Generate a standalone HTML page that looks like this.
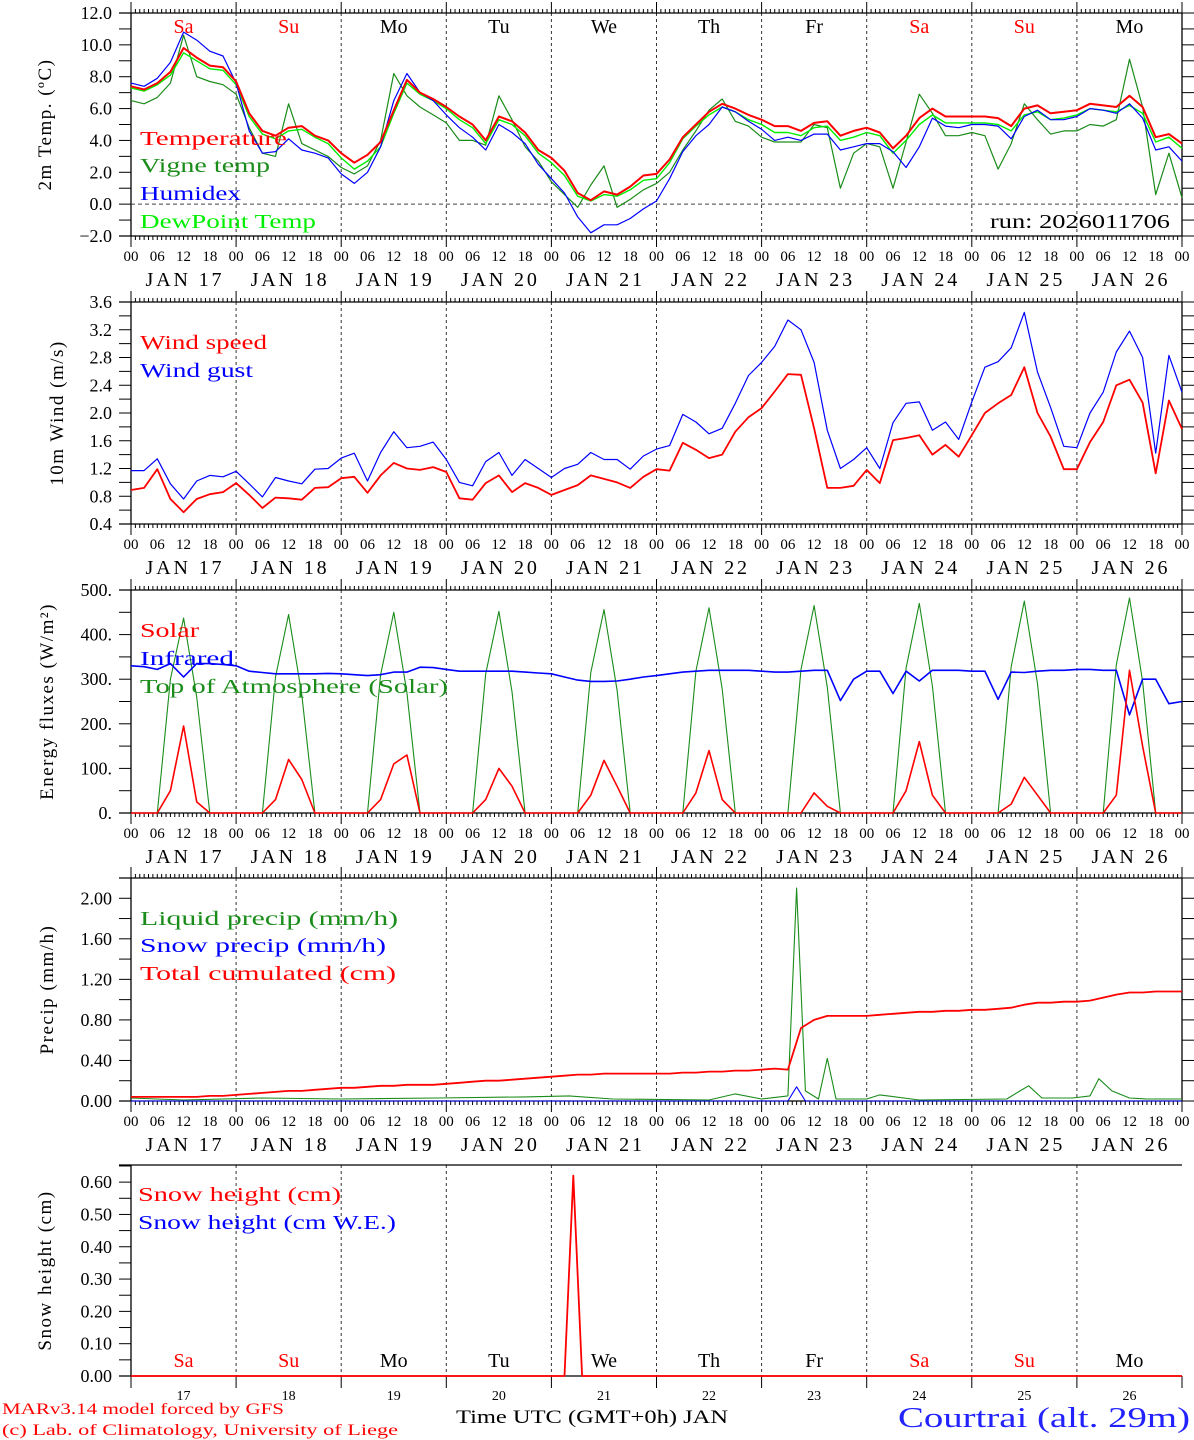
<!DOCTYPE html>
<html><head><meta charset="utf-8"><style>
html,body{margin:0;padding:0;background:#fff;}
svg{display:block;font-family:"Liberation Serif",serif;}
</style></head><body>
<svg id="chart" width="1194" height="1440" viewBox="0 0 1194 1440" xmlns="http://www.w3.org/2000/svg"></svg>
<script>
// ---------- data (3-hourly, Jan 17 00 UTC .. Jan 27 00 UTC) ----------
const dayLabels = ["17","18","19","20","21","22","23","24","25","26"];
const dayNames = ["Sa","Su","Mo","Tu","We","Th","Fr","Sa","Su","Mo"];
const hourLabels = ["00","06","12","18"];
const tempRed = [7.4,7.2,7.6,8.3,9.8,9.2,8.7,8.6, 7.7,5.7,4.6,4.3,4.8,4.9,4.3,4.0, 3.2,2.6,3.1,3.9,5.9,7.8,7.0,6.6, 6.1,5.5,5.0,4.0,5.5,5.2,4.5,3.4, 2.9,2.1,0.7,0.25,0.8,0.6,1.1,1.8, 1.9,2.8,4.2,5.0,5.8,6.3,6.0,5.6, 5.3,4.9,4.9,4.6,5.1,5.2,4.3,4.6, 4.8,4.5,3.5,4.3,5.4,6.0,5.5,5.5, 5.5,5.5,5.4,4.9,6.0,6.2,5.7,5.8, 5.9,6.3,6.2,6.1,6.8,6.1,4.2,4.4,3.8];
const tempVigne = [6.5,6.3,6.7,7.6,10.6,8.0,7.7,7.5, 6.9,4.8,3.2,3.0,6.3,3.8,3.4,3.0, 2.3,1.9,2.4,4.0,8.2,6.8,6.1,5.6, 5.1,4.0,4.0,3.7,6.8,5.3,3.6,2.7, 1.4,0.6,-0.2,1.2,2.4,-0.2,0.3,0.9, 1.3,2.0,3.4,4.6,5.9,6.6,5.2,4.9, 4.2,3.9,3.9,3.9,5.0,4.8,1.0,3.2, 3.8,3.6,1.0,3.9,6.9,5.7,4.3,4.3, 4.5,4.3,2.2,3.8,6.3,5.3,4.4,4.6, 4.6,5.0,4.9,5.3,9.1,6.1,0.6,3.2,0.4];
const tempHumidex = [7.6,7.4,7.9,8.9,10.8,10.3,9.6,9.3, 7.6,4.6,3.2,3.3,4.1,3.4,3.2,2.9, 1.9,1.3,2.0,3.6,6.5,8.2,7.0,6.5, 5.6,4.8,4.2,3.4,5.0,4.5,3.8,2.5, 1.6,0.7,-0.8,-1.8,-1.3,-1.3,-0.9,-0.3, 0.2,1.6,3.3,4.3,5.0,6.1,5.8,5.2, 4.7,4.0,4.2,4.0,4.4,4.4,3.4,3.6, 3.8,3.8,3.3,2.3,3.6,5.4,4.9,4.8, 5.0,5.0,4.9,4.1,5.5,5.9,5.3,5.3, 5.5,6.0,5.9,5.7,6.3,5.4,3.4,3.6,2.7];
const tempDew = [7.3,7.1,7.5,8.1,9.5,9.0,8.5,8.4, 7.5,5.5,4.4,4.1,4.6,4.7,4.2,3.8, 2.9,2.2,2.7,3.6,5.7,7.6,6.9,6.5, 6.0,5.3,4.8,3.8,5.3,5.0,4.3,3.2, 2.6,1.8,0.5,0.2,0.6,0.5,0.9,1.5, 1.6,2.6,4.1,4.9,5.6,6.1,5.8,5.3, 5.0,4.5,4.5,4.3,4.8,4.9,4.0,4.2, 4.5,4.3,3.2,4.0,5.0,5.6,5.1,5.1, 5.1,5.1,5.0,4.6,5.6,5.8,5.3,5.4, 5.6,6.0,5.9,5.8,6.2,5.7,3.9,4.2,3.5];
const windSpeed = [0.89,0.92,1.19,0.76,0.57,0.76,0.83,0.86, 0.99,0.82,0.63,0.78,0.77,0.75,0.92,0.93, 1.06,1.08,0.85,1.1,1.28,1.2,1.18,1.22, 1.15,0.77,0.75,0.99,1.1,0.86,0.99,0.92, 0.82,0.89,0.96,1.1,1.05,1.0,0.92,1.08, 1.19,1.17,1.57,1.47,1.35,1.4,1.73,1.94, 2.07,2.31,2.56,2.55,1.78,0.92,0.92,0.95, 1.18,0.99,1.61,1.64,1.68,1.4,1.54,1.37, 1.68,2.0,2.14,2.26,2.66,2.0,1.66,1.19, 1.19,1.58,1.87,2.4,2.48,2.15,1.13,2.18,1.77];
const windGust = [1.17,1.17,1.34,0.98,0.76,1.02,1.1,1.08, 1.16,0.98,0.79,1.07,1.02,0.98,1.19,1.2, 1.35,1.42,1.02,1.43,1.73,1.5,1.52,1.58, 1.33,1.0,0.95,1.3,1.43,1.1,1.33,1.2, 1.07,1.2,1.26,1.43,1.33,1.33,1.19,1.38, 1.48,1.53,1.98,1.87,1.7,1.78,2.14,2.54, 2.73,2.96,3.34,3.2,2.73,1.75,1.2,1.33, 1.5,1.2,1.86,2.14,2.16,1.75,1.87,1.62, 2.16,2.66,2.74,2.94,3.45,2.59,2.08,1.52, 1.5,2.0,2.3,2.88,3.18,2.8,1.42,2.83,2.3];
const fluxSolar = [0,0,0,50,195,25,0,0, 0,0,0,30,120,75,0,0, 0,0,0,30,110,130,0,0, 0,0,0,30,100,60,0,0, 0,0,0,40,118,60,0,0, 0,0,0,45,140,30,0,0, 0,0,0,0,45,15,0,0, 0,0,0,50,160,40,0,0, 0,0,0,20,80,40,0,0, 0,0,0,40,320,150,0,0,0];
const fluxInfrared = [330,328,322,335,305,335,335,333, 330,318,315,312,312,312,312,313, 312,310,308,310,316,316,327,326, 322,318,318,318,318,318,316,314, 312,305,298,295,295,296,300,305, 308,312,316,318,320,320,320,320, 318,316,316,318,320,320,252,300, 318,318,268,318,296,320,320,320, 318,318,255,316,315,318,320,320, 322,322,320,320,220,300,300,245,250];
const fluxTOA = [0,0,0,300,437,260,0,0, 0,0,0,305,445,265,0,0, 0,0,0,310,450,270,0,0, 0,0,0,312,452,272,0,0, 0,0,0,315,456,275,0,0, 0,0,0,318,460,278,0,0, 0,0,0,322,465,282,0,0, 0,0,0,325,470,285,0,0, 0,0,0,328,475,290,0,0, 0,0,0,332,482,295,0,0,0];
const precipTotal = [0.04,0.04,0.04,0.04,0.04,0.04,0.05,0.05, 0.06,0.07,0.08,0.09,0.10,0.10,0.11,0.12, 0.13,0.13,0.14,0.15,0.15,0.16,0.16,0.16, 0.17,0.18,0.19,0.20,0.20,0.21,0.22,0.23, 0.24,0.25,0.26,0.26,0.27,0.27,0.27,0.27, 0.27,0.27,0.28,0.28,0.29,0.29,0.30,0.30, 0.31,0.32,0.31,0.72,0.80,0.84,0.84,0.84, 0.84,0.85,0.86,0.87,0.88,0.88,0.89,0.89, 0.90,0.90,0.91,0.92,0.95,0.97,0.97,0.98, 0.98,0.99,1.02,1.05,1.07,1.07,1.08,1.08,1.08];
const liquidHours = [0,6,12,30,48,70,90,100,110,132,138,144,150,152,154,157,159,161,168,171,180,200,203,205,208,215,219,221,224,228,232,240];
const liquidVals = [0.03,0.02,0.01,0.03,0.02,0.03,0.04,0.05,0.02,0.01,0.07,0.02,0.05,2.1,0.1,0.02,0.42,0.02,0.02,0.06,0.01,0.02,0.1,0.15,0.03,0.03,0.05,0.22,0.1,0.03,0.02,0.02];
const snowPrecipHours = [0,150,152,154,240];
const snowPrecipVals = [0,0,0.14,0,0];
const snowHours = [0,99,101,103,240];
const snowVals = [0,0,0.62,0,0];

// ---------- drawing ----------
const NS = "http://www.w3.org/2000/svg";
const svg = document.getElementById("chart");
const X0 = 131, X1 = 1182, HOURS = 240;
function xh(h){ return X0 + h*(X1-X0)/HOURS; }
function mk(tag, attrs, parent){
  const e = document.createElementNS(NS, tag);
  for (const k in attrs) e.setAttribute(k, attrs[k]);
  (parent||svg).appendChild(e);
  return e;
}
function txt(s, x, y, size, color, anchor, parent){
  const t = mk("text", {x:x, y:y, "font-size":size, fill:color||"#000", "text-anchor":anchor||"start"}, parent);
  t.textContent = s;
  return t;
}
const panels = [
  {name:"temperature", top:13, bot:236, min:-2, max:12, lab:2, tick:1, dec:1, title:"2m Temp. (ºC)", tx:45},
  {name:"wind", top:302, bot:524, min:0.4, max:3.6, lab:0.4, tick:0.2, dec:1, title:"10m Wind (m/s)", tx:57},
  {name:"energy", top:590, bot:813, min:0, max:500, lab:100, tick:50, dec:-1, title:"Energy fluxes (W/m²)", tx:47},
  {name:"precip", top:878, bot:1101, min:0, max:2.2, lab:0.4, tick:0.2, dec:2, title:"Precip (mm/h)", tx:47, labMax:2.0},
  {name:"snow", top:1165, bot:1376, min:0, max:0.653, lab:0.1, tick:0.05, dec:2, title:"Snow height (cm)", tx:45, labMax:0.6}
];
function yf(p){ return v => p.bot - (v-p.min)*(p.bot-p.top)/(p.max-p.min); }
function fmt(v, dec){
  if (dec < 0) return Math.round(v) + ".";
  const s = Math.abs(v).toFixed(dec);
  return (v < -1e-9 ? "\u2212" : "") + s;
}
function line(x1,y1,x2,y2,stroke,w,dash,parent){
  const a = {x1:x1,y1:y1,x2:x2,y2:y2,stroke:stroke,"stroke-width":w||1};
  if (dash) a["stroke-dasharray"] = dash;
  return mk("line", a, parent);
}
function seriesPath(vals, p, color, w, name, hoursArr){
  const Y = yf(p);
  let d = "";
  vals.forEach((v,i) => {
    const h = hoursArr ? hoursArr[i] : i*3;
    d += (i ? "L" : "M") + xh(h).toFixed(1) + "," + Y(v).toFixed(1);
  });
  const e = mk("path", {d:d, fill:"none", stroke:color, "stroke-width":w, "stroke-linejoin":"round"});
  
  
  return e;
}
function legend(s, y, color, width, name, x){
  const t = mk("text", {x:x||140, y:y, "font-size":20, fill:color, textLength:width, lengthAdjust:"spacingAndGlyphs"});
  t.textContent = s;
  
  
}

panels.forEach((p, pi) => {
  const g = mk("g", {});
  
  
  const Y = yf(p);
  const isSnow = pi === 4;
  for (let d = 1; d < 10; d++) line(xh(d*24), p.top, xh(d*24), p.bot, "#333", 1, "3,3", g);
  line(119, p.top, X1, p.top, "#000", 1.3, null, g);
  line(119, p.bot, X1, p.bot, "#000", 1.3, null, g);
  line(X0, p.top, X0, p.bot, "#000", 1.3, null, g);
  if (!isSnow) line(X1, p.top, X1, p.bot, "#000", 1.3, null, g);
  const nT = Math.round((p.max - p.min)/p.tick);
  for (let i = 0; i <= nT; i++){
    const v = p.min + i*p.tick, y = Y(v);
    if (y < p.top - 0.5) continue;
    line(119, y, X0, y, "#000", 1, null, g);
    if (!isSnow) line(X1, y, 1194, y, "#000", 1, null, g);
  }
  const lm = p.labMax !== undefined ? p.labMax : p.max;
  const nL = Math.round((lm - p.min)/p.lab);
  for (let i = 0; i <= nL; i++){
    const v = p.min + i*p.lab;
    const t = txt(fmt(v, p.dec), 112, Y(v)+6, 18, "#000", "end", g);
    
    
  }
  const cy = (p.top + p.bot)/2;
  const tt = mk("text", {x:0, y:0, "font-size":19, fill:"#000", "text-anchor":"middle", transform:"translate("+(p.tx+6)+","+cy+") rotate(-90)", "letter-spacing":"1.5"}, g);
  tt.textContent = p.title;
  
  
  if (!isSnow){
    for (let h = 0; h <= HOURS; h++){
      const x = xh(h), big = h % 24 === 0;
      line(x, p.top - (big?11:4), x, p.top, "#000", 1, null, g);
      line(x, p.bot, x, p.bot + (big?11:4), "#000", 1, null, g);
    }
    for (let h = 0; h <= HOURS; h += 6){
      const t = txt(hourLabels[(h/6)%4], xh(h), p.bot + 25, 15, "#000", "middle", g);
      
      
    }
    dayLabels.forEach((dl, d) => {
      const t = mk("text", {x:xh(d*24+12)-38, y:p.bot + 50, "font-size":20, fill:"#000", textLength:76, lengthAdjust:"spacing"}, g);
      t.textContent = "JAN " + dl;
      
      
    });
  } else {
    for (let d = 0; d <= 10; d++) line(xh(d*24), p.bot, xh(d*24), p.bot + 12, "#000", 1, null, g);
    dayLabels.forEach((dl, d) => {
      const t = txt(dl, xh(d*24+12), p.bot + 24, 14, "#000", "middle", g);
      
      
    });
  }
});

dayNames.forEach((n, d) => {
  const c = (n === "Sa" || n === "Su") ? "#ff0000" : "#000";
  const t1 = txt(n, xh(d*24+12), 33, 20, c, "middle");
  
  
  const t2 = txt(n, xh(d*24+12), 1367, 20, c, "middle");
  
  
});

const P = panels;
line(X0, yf(P[0])(0), X1, yf(P[0])(0), "#444", 1, "4,3");
seriesPath(tempVigne, P[0], "#1a8c1a", 1.2, "vigne-temp-line");
seriesPath(tempDew, P[0], "#00ee00", 1.4, "dewpoint-line");
seriesPath(tempHumidex, P[0], "#0000ff", 1.2, "humidex-line");
seriesPath(tempRed, P[0], "#ff0000", 2, "temperature-line");
legend("Temperature", 145, "#ff0000", 147, "legend-temperature");
legend("Vigne temp", 172, "#1a8c1a", 130, "legend-vigne-temp");
legend("Humidex", 200, "#0000ff", 101, "legend-humidex");
legend("DewPoint Temp", 228, "#00ee00", 176, "legend-dewpoint");
legend("run: 2026011706", 228, "#000", 180, "run-label", 990);

seriesPath(windGust, P[1], "#0000ff", 1.2, "wind-gust-line");
seriesPath(windSpeed, P[1], "#ff0000", 1.8, "wind-speed-line");
legend("Wind speed", 349, "#ff0000", 127, "legend-wind-speed");
legend("Wind gust", 377, "#0000ff", 113, "legend-wind-gust");

seriesPath(fluxTOA, P[2], "#1a8c1a", 1.1, "toa-solar-line");
seriesPath(fluxInfrared, P[2], "#0000ff", 1.6, "infrared-line");
seriesPath(fluxSolar, P[2], "#ff0000", 1.6, "solar-line");
legend("Solar", 637, "#ff0000", 59, "legend-solar");
legend("Infrared", 665, "#0000ff", 94, "legend-infrared");
legend("Top of Atmosphere (Solar)", 693, "#1a8c1a", 308, "legend-toa");

seriesPath(liquidVals, P[3], "#1a8c1a", 1.1, "liquid-precip-line", liquidHours);
seriesPath(snowPrecipVals, P[3], "#0000ff", 1.1, "snow-precip-line", snowPrecipHours);
seriesPath(precipTotal, P[3], "#ff0000", 1.8, "total-cumulated-line");
legend("Liquid precip (mm/h)", 925, "#1a8c1a", 258, "legend-liquid-precip");
legend("Snow precip (mm/h)", 952, "#0000ff", 246, "legend-snow-precip");
legend("Total cumulated (cm)", 980, "#ff0000", 256, "legend-total-cumulated");

seriesPath(snowVals, P[4], "#ff0000", 1.8, "snow-height-line", snowHours);
legend("Snow height (cm)", 1201, "#ff0000", 203, "legend-snow-height", 138);
legend("Snow height (cm W.E.)", 1229, "#0000ff", 258, "legend-snow-we", 138);

const f1 = mk("text", {x:2, y:1414, "font-size":16, fill:"#ff0000", textLength:282, lengthAdjust:"spacingAndGlyphs"});
f1.textContent = "MARv3.14 model forced by GFS";


const f2 = mk("text", {x:2, y:1435, "font-size":16, fill:"#ff0000", textLength:396, lengthAdjust:"spacingAndGlyphs"});
f2.textContent = "(c) Lab. of Climatology, University of Liege";


const f3 = mk("text", {x:456, y:1423, "font-size":19, fill:"#000", textLength:272, lengthAdjust:"spacingAndGlyphs"});
f3.textContent = "Time UTC (GMT+0h) JAN";


const f4 = mk("text", {x:898, y:1427, "font-size":28, fill:"#2222ff", textLength:292, lengthAdjust:"spacingAndGlyphs"});
f4.textContent = "Courtrai (alt. 29m)";


</script>
</body></html>
